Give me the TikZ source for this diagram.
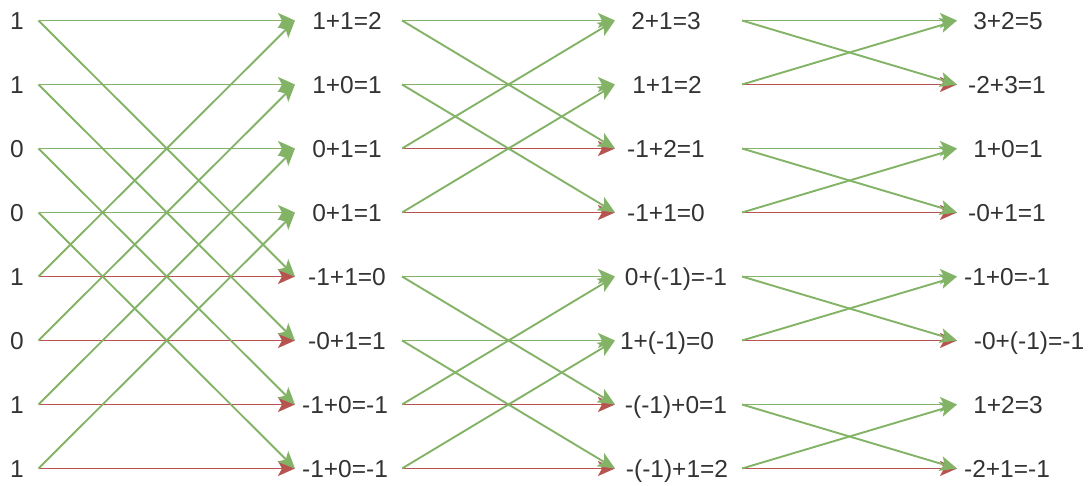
\documentclass[tikz,border=0pt]{standalone}
\usepackage{fontspec}
\setmainfont{Liberation Sans}
\usetikzlibrary{arrows.meta}
\definecolor{gline}{HTML}{82B366}
\definecolor{rline}{HTML}{B85450}
\definecolor{txt}{HTML}{333333}
\tikzset{
  lbl/.style={anchor=base, inner sep=0pt, text=txt, font=\fontsize{24.5}{24.5}\selectfont},
  garrow/.style={draw=gline, line width=1.9pt, -{Stealth[length=17pt,width=15pt,inset=4pt,fill=gline]}},
  rarrow/.style={draw=rline, line width=1.9pt, -{Stealth[length=17pt,width=15pt,inset=4pt,fill=rline]}},
}
\begin{document}
\begin{tikzpicture}[x=1pt,y=-1pt]
\useasboundingbox (0,0) rectangle (1091,486);
% row coordinates
\foreach \k in {1,...,8}{
  \pgfmathsetmacro{\yy}{20.5+64*(\k-1)}
  \coordinate (sa\k) at (38.5,\yy);
  \coordinate (ea\k) at (295,\yy);
  \coordinate (sb\k) at (402,\yy);
  \coordinate (eb\k) at (615,\yy);
  \coordinate (sc\k) at (742,\yy);
  \coordinate (ec\k) at (957,\yy);
}
% input labels
\foreach \k/\v in {1/1,2/1,3/0,4/0,5/1,6/0,7/1,8/1}{
  \pgfmathsetmacro{\yy}{20.5+64*(\k-1)+8.8}
  \node[lbl] (in\k) at (17,\yy) {\v};
}
% stage 1 labels
\foreach \k/\cx/\t in {1/347/{1+1=2},2/347/{1+0=1},3/347/{0+1=1},4/347/{0+1=1},5/347/{-1+1=0},6/347/{-0+1=1},7/345/{-1+0=-1},8/345/{-1+0=-1}}{
  \pgfmathsetmacro{\yy}{20.5+64*(\k-1)+8.8}
  \node[lbl] (la\k) at (\cx,\yy) {\t};
}
% stage 2 labels
\foreach \k/\cx/\t in {1/666/{2+1=3},2/667/{1+1=2},3/666/{-1+2=1},4/666/{-1+1=0},5/676/{0+(-1)=-1},6/667/{1+(-1)=0},7/676/{-(-1)+0=1},8/677/{-(-1)+1=2}}{
  \pgfmathsetmacro{\yy}{20.5+64*(\k-1)+8.8}
  \node[lbl] (lb\k) at (\cx,\yy) {\t};
}
% stage 3 labels
\foreach \k/\cx/\t in {1/1008/{3+2=5},2/1007/{-2+3=1},3/1008/{1+0=1},4/1007/{-0+1=1},5/1007/{-1+0=-1},6/1029/{-0+(-1)=-1},7/1008/{1+2=3},8/1007/{-2+1=-1}}{
  \pgfmathsetmacro{\yy}{20.5+64*(\k-1)+8.8}
  \node[lbl] (lc\k) at (\cx,\yy) {\t};
}
% stage 1
\foreach \k in {5,...,8}{ \draw[rarrow] (sa\k) -- (ea\k); }
\foreach \k in {1,...,4}{ \draw[garrow] (sa\k) -- (ea\k); }
\foreach \k in {1,...,4}{
  \pgfmathtruncatemacro{\m}{\k+4}
  \draw[garrow] (sa\k) -- (ea\m);
  \draw[garrow] (sa\m) -- (ea\k);
}
% stage 2
\foreach \k in {3,4,7,8}{ \draw[rarrow] (sb\k) -- (eb\k); }
\foreach \k in {1,2,5,6}{ \draw[garrow] (sb\k) -- (eb\k); }
\foreach \k in {1,2,5,6}{
  \pgfmathtruncatemacro{\m}{\k+2}
  \draw[garrow] (sb\k) -- (eb\m);
  \draw[garrow] (sb\m) -- (eb\k);
}
% stage 3
\foreach \k in {2,4,6,8}{ \draw[rarrow] (sc\k) -- (ec\k); }
\foreach \k in {1,3,5,7}{ \draw[garrow] (sc\k) -- (ec\k); }
\foreach \k in {1,3,5,7}{
  \pgfmathtruncatemacro{\m}{\k+1}
  \draw[garrow] (sc\k) -- (ec\m);
  \draw[garrow] (sc\m) -- (ec\k);
}
\end{tikzpicture}
\end{document}
